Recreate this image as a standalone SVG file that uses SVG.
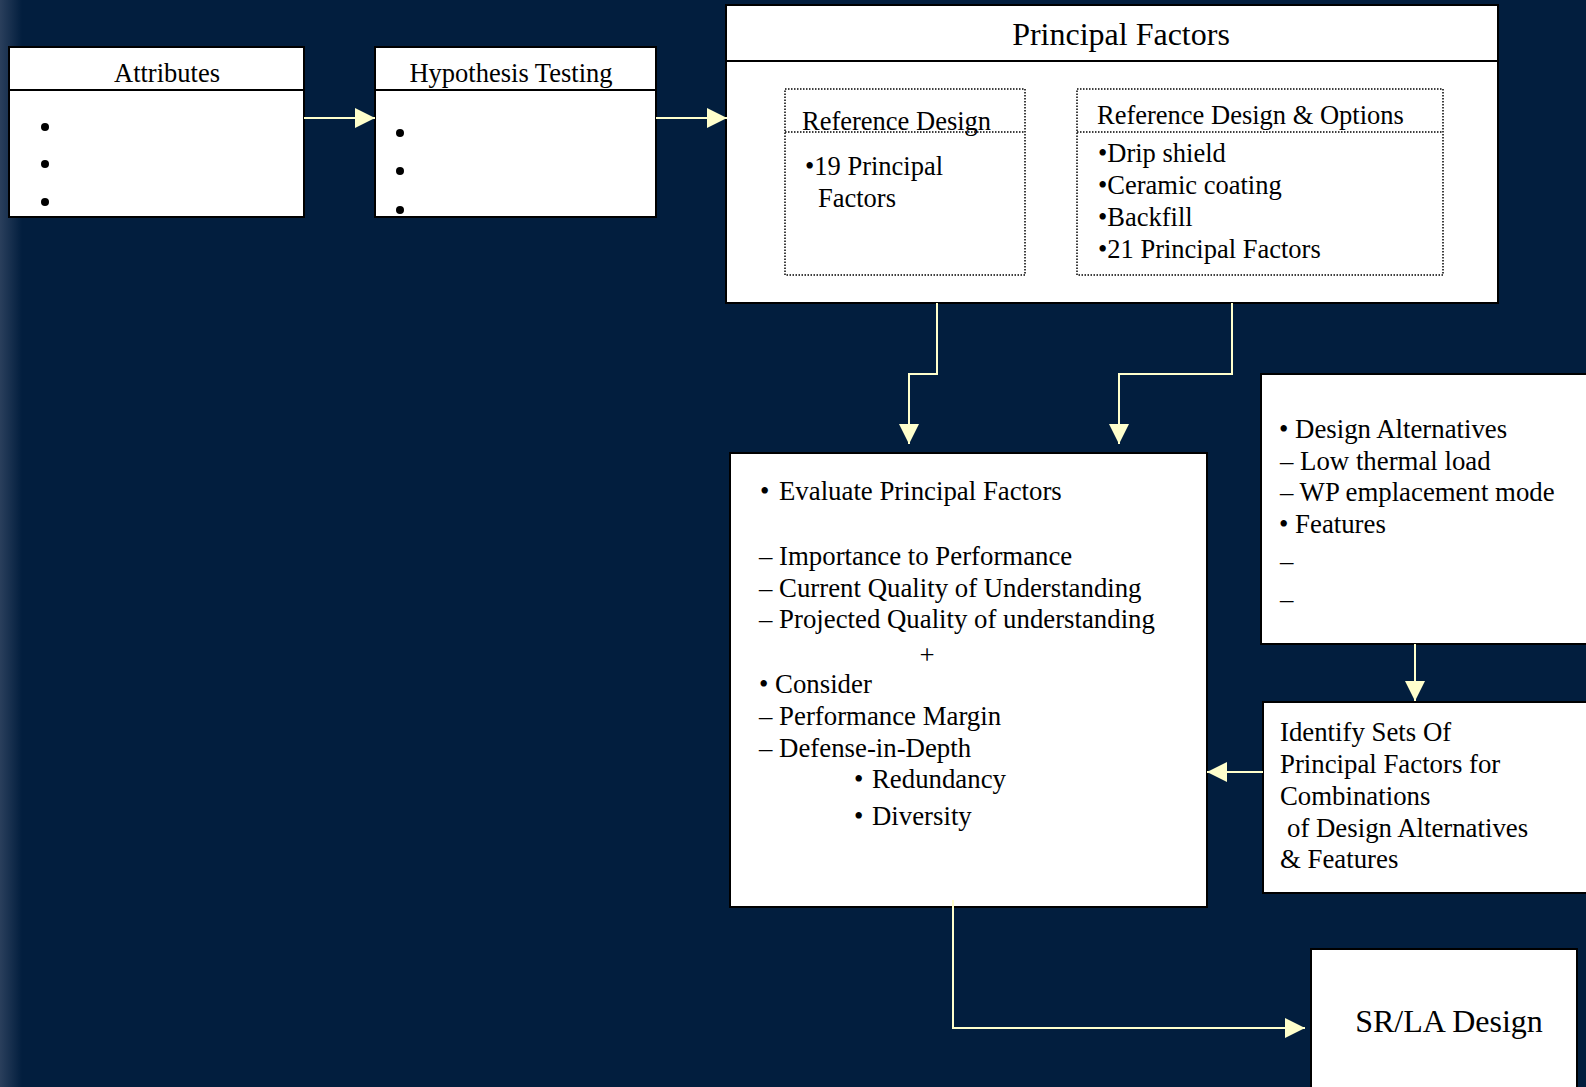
<svg xmlns="http://www.w3.org/2000/svg" width="1586" height="1087" viewBox="0 0 1586 1087">
<defs>
<linearGradient id="edge" x1="0" y1="0" x2="1" y2="0">
<stop offset="0" stop-color="#2a3f5c"/>
<stop offset="1" stop-color="#021e3e"/>
</linearGradient>
<marker id="ah" markerUnits="userSpaceOnUse" markerWidth="20" markerHeight="20" refX="20" refY="10" orient="auto" viewBox="0 0 20 20">
<path d="M0,0 L20,10 L0,20 Z" fill="#FFFFCC"/>
</marker>
<style>
.box{fill:#fff;stroke:#000;stroke-width:2}
.hdr{stroke:#000;stroke-width:2}
.dot{fill:none;stroke:#000;stroke-width:1.5;stroke-dasharray:1.5 1.5}
.t{font-family:"Liberation Serif","Times New Roman",serif;fill:#000}
.f26{font-size:26.5px}
.f27{font-size:26.8px}
.f32{font-size:32px}
.mid{text-anchor:middle}
.conn{fill:none;stroke:#FFFFCC;stroke-width:2}
</style>
</defs>
<rect x="0" y="0" width="1586" height="1087" fill="#021e3e"/>
<rect x="0" y="0" width="22" height="1087" fill="url(#edge)"/>

<g id="attributes">
<rect class="box" x="9" y="47" width="295" height="170"/>
<line class="hdr" x1="9" y1="90" x2="304" y2="90"/>
<text class="t f26 mid" x="167" y="82">Attributes</text>
<circle cx="45" cy="127" r="4"/>
<circle cx="45" cy="164" r="4"/>
<circle cx="45" cy="202" r="4"/>
</g>

<g id="hypothesis">
<rect class="box" x="375" y="47" width="281" height="170"/>
<line class="hdr" x1="375" y1="90" x2="656" y2="90"/>
<text class="t f26 mid" x="511" y="82">Hypothesis Testing</text>
<circle cx="400" cy="133" r="4"/>
<circle cx="400" cy="171" r="4"/>
<circle cx="400" cy="210" r="4"/>
</g>

<g id="principal-factors">
<rect class="box" x="726" y="5" width="772" height="298"/>
<line class="hdr" x1="726" y1="61" x2="1498" y2="61"/>
<text class="t f32 mid" x="1121" y="45">Principal Factors</text>
<g id="reference-design">
<rect class="dot" x="785" y="89" width="240" height="186"/>
<line class="dot" x1="785" y1="132" x2="1025" y2="132"/>
<text class="t f26" x="802" y="130">Reference Design</text>
<text class="t f26" x="805" y="175">•19 Principal</text>
<text class="t f26" x="818" y="207">Factors</text>
</g>
<g id="reference-design-options">
<rect class="dot" x="1077" y="89" width="366" height="186"/>
<line class="dot" x1="1077" y1="132" x2="1443" y2="132"/>
<text class="t f26" x="1097" y="124">Reference Design &amp; Options</text>
<text class="t f26" x="1098" y="162">•Drip shield</text>
<text class="t f26" x="1098" y="194">•Ceramic coating</text>
<text class="t f26" x="1098" y="226">•Backfill</text>
<text class="t f26" x="1098" y="258">•21 Principal Factors</text>
</g>
</g>

<g id="evaluate">
<rect class="box" x="730" y="453" width="477" height="454"/>
<text class="t f27" x="760" y="500">•<tspan x="779">Evaluate Principal Factors</tspan></text>
<text class="t f27" x="759" y="565">– Importance to Performance</text>
<text class="t f27" x="759" y="597">– Current Quality of Understanding</text>
<text class="t f27" x="759" y="628">– Projected Quality of understanding</text>
<text class="t f27 mid" x="927" y="664">+</text>
<text class="t f27" x="759" y="693">• Consider</text>
<text class="t f27" x="759" y="725">– Performance Margin</text>
<text class="t f27" x="759" y="757">– Defense-in-Depth</text>
<text class="t f27" x="854" y="788">•<tspan x="872">Redundancy</tspan></text>
<text class="t f27" x="854" y="825">•<tspan x="872">Diversity</tspan></text>
</g>

<g id="design-alternatives">
<rect class="box" x="1261" y="374" width="340" height="270"/>
<text class="t f27" x="1279" y="438">• Design Alternatives</text>
<text class="t f27" x="1280" y="470">– Low thermal load</text>
<text class="t f27" x="1280" y="501">– WP emplacement mode</text>
<text class="t f27" x="1279" y="533">• Features</text>
<text class="t f27" x="1280" y="570">–</text>
<text class="t f27" x="1280" y="608">–</text>
</g>

<g id="identify-sets">
<rect class="box" x="1263" y="702" width="340" height="191"/>
<text class="t f27" x="1280" y="741">Identify Sets Of</text>
<text class="t f27" x="1280" y="773">Principal Factors for</text>
<text class="t f27" x="1280" y="805">Combinations</text>
<text class="t f27" x="1287" y="837">of Design Alternatives</text>
<text class="t f27" x="1280" y="868">&amp; Features</text>
</g>

<g id="srla-design">
<rect class="box" x="1311" y="949" width="266" height="160"/>
<text class="t f32 mid" x="1449" y="1032">SR/LA Design</text>
</g>

<g id="connectors">
<path class="conn" d="M304,118 H375" marker-end="url(#ah)"/>
<path class="conn" d="M656,118 H727" marker-end="url(#ah)"/>
<path class="conn" d="M937,303 V374 H909 V444" marker-end="url(#ah)"/>
<path class="conn" d="M1232,303 V374 H1119 V444" marker-end="url(#ah)"/>
<path class="conn" d="M1415,644 V701" marker-end="url(#ah)"/>
<path class="conn" d="M1263,772 H1207" marker-end="url(#ah)"/>
<path class="conn" d="M953,900 V1028 H1305" marker-end="url(#ah)"/>
</g>
</svg>
